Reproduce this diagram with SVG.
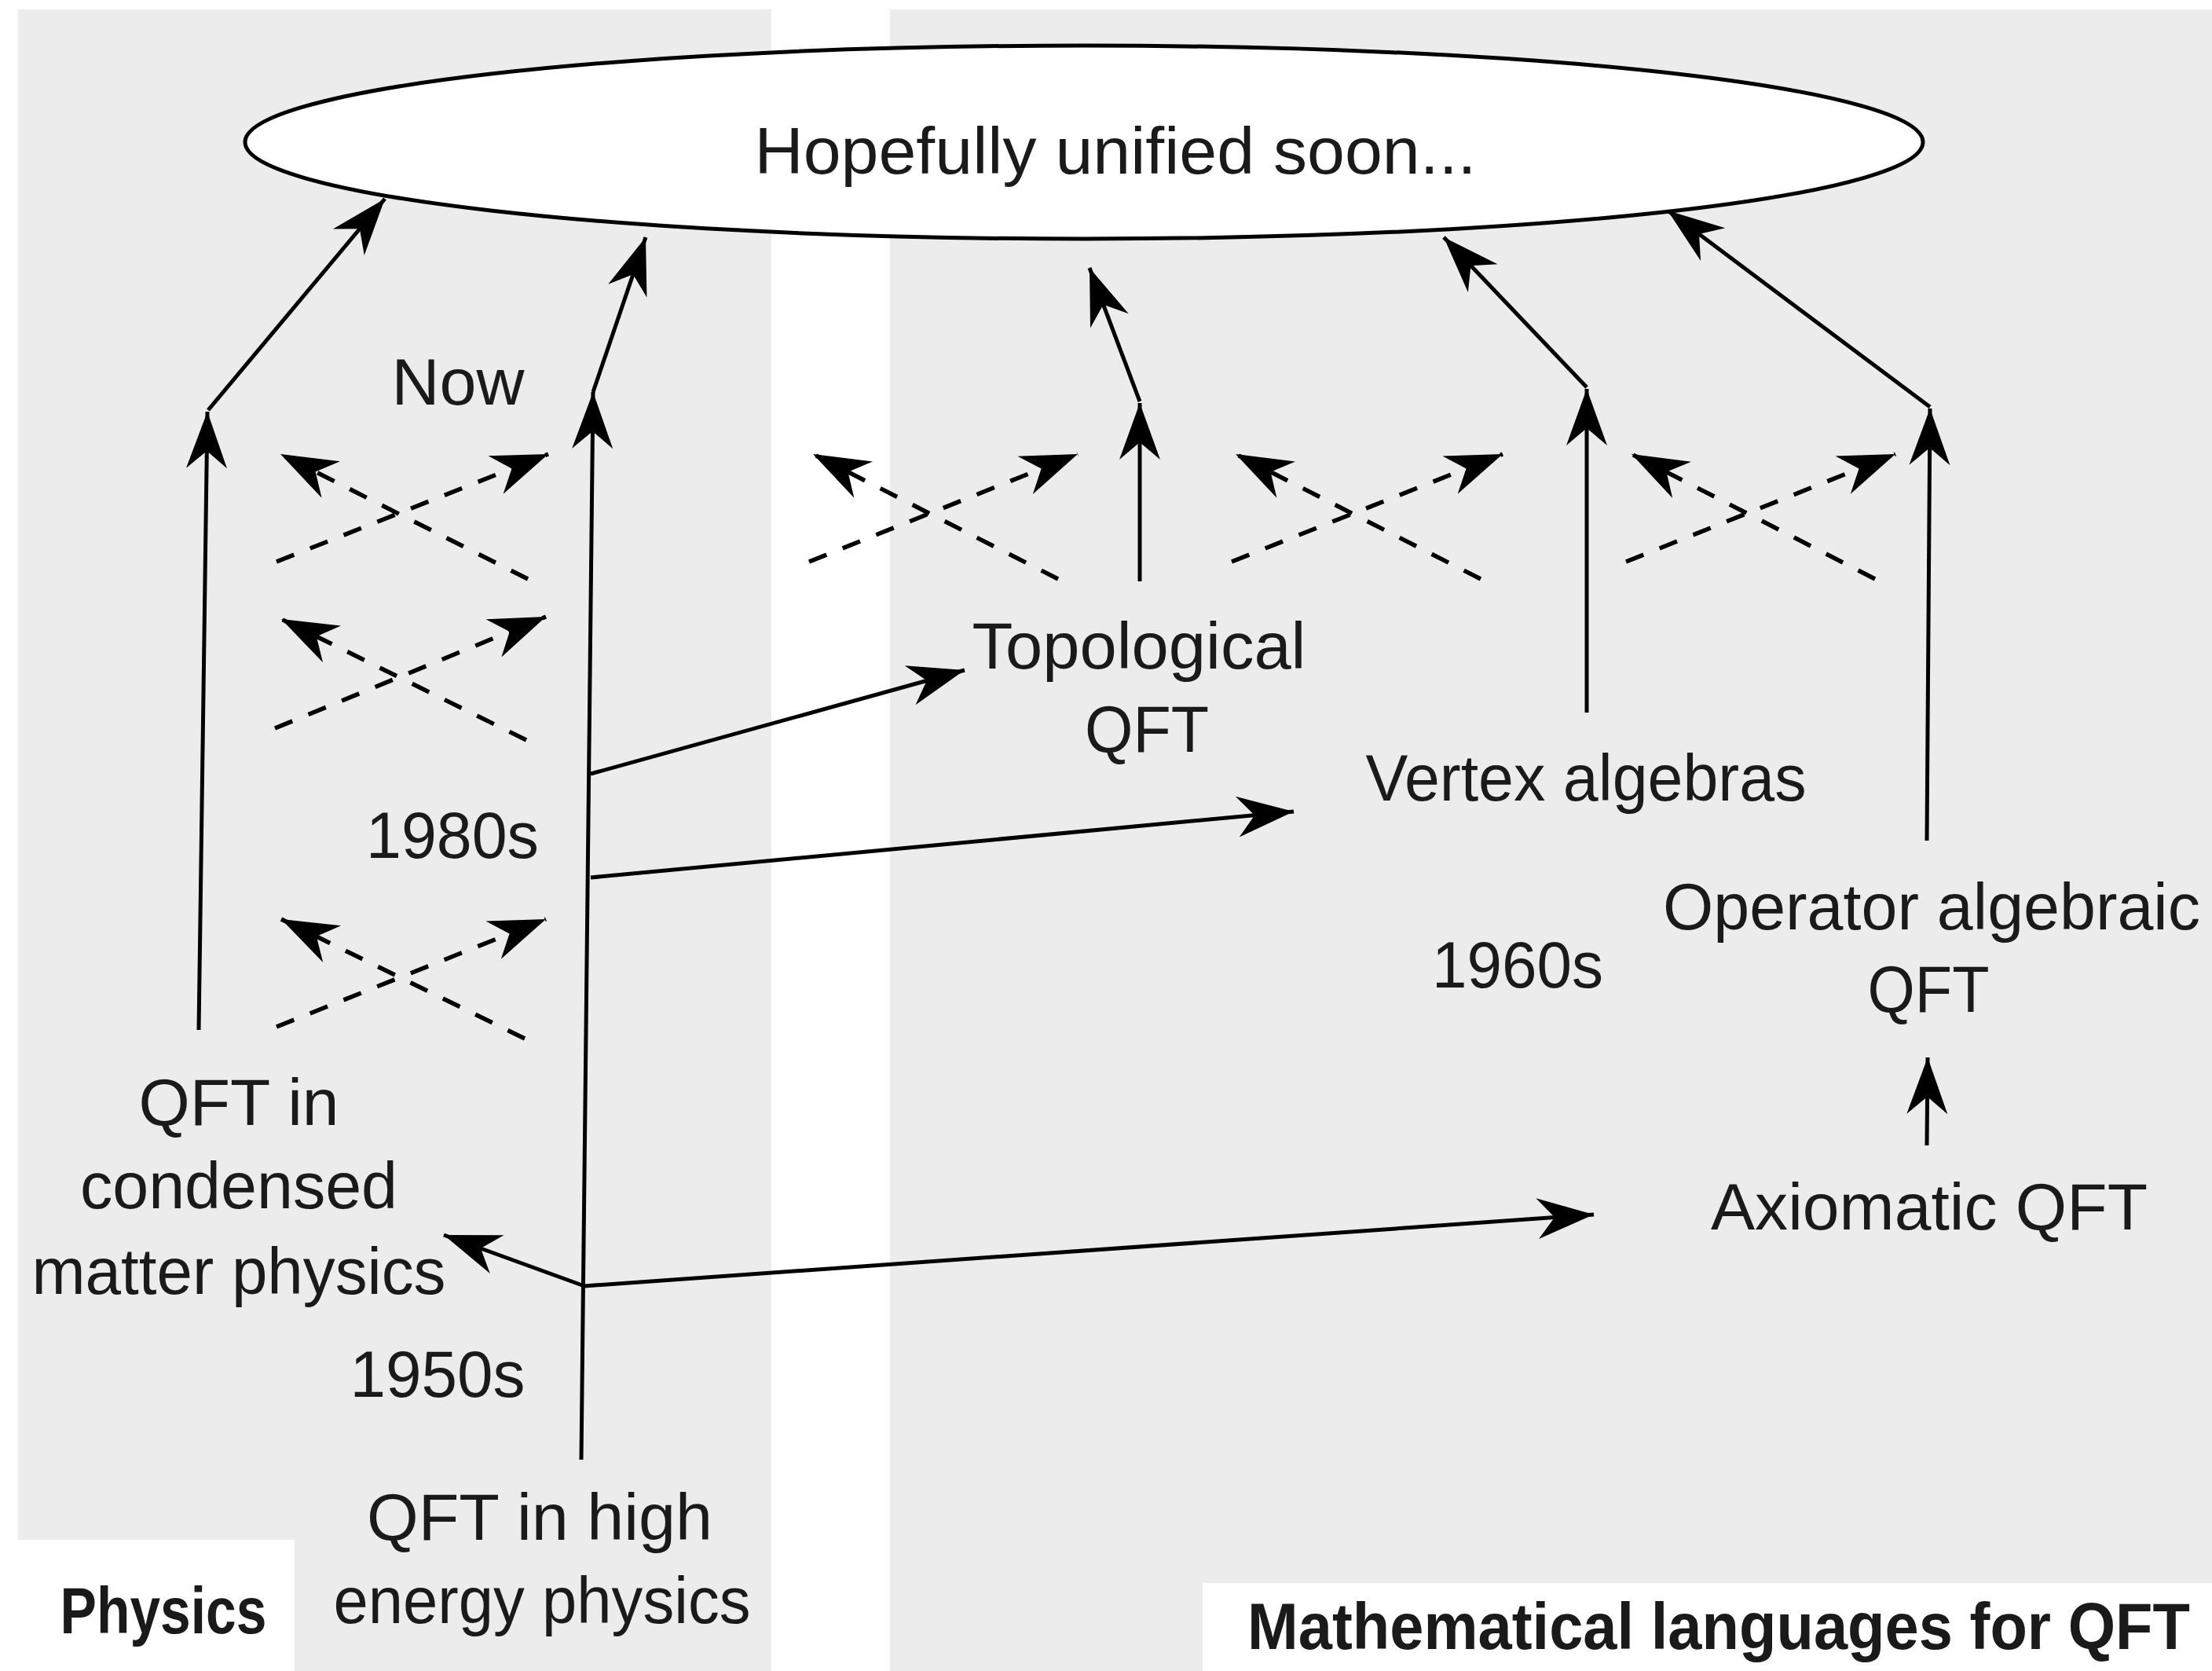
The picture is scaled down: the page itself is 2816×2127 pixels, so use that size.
<svg xmlns="http://www.w3.org/2000/svg" width="2816" height="2127" viewBox="0 0 2816 2127">
<style>
.bg{fill:#ffffff}
.panel{fill:#ececec}
.hole{fill:#ffffff}
.t{font-family:"Liberation Sans",Arial,sans-serif;font-size:83px;fill:#1a1a1a;text-anchor:middle}
.b{font-weight:bold}
.ell{fill:#ffffff;stroke:#000;stroke-width:5}
.c{fill:none;stroke:#000;stroke-width:5;marker-end:url(#ah)}
.d{fill:none;stroke:#000;stroke-width:5.5;stroke-dasharray:24 22;marker-end:url(#ah)}
</style>
<defs>
<marker id="ah" viewBox="-76 -30 80 60" refX="0" refY="0" markerWidth="80" markerHeight="60" markerUnits="userSpaceOnUse" orient="auto">
<path d="M0,0 L-72,-26 L-50,0 L-72,26 Z" fill="#000"/>
</marker>
</defs>
<rect class="bg" x="0" y="0" width="2816" height="2127"/>
<g id="panels">
<rect class="panel" x="23" y="12" width="959" height="2115"/>
<rect class="hole" x="23" y="1960" width="352" height="167"/>
<rect class="panel" x="1133" y="12" width="1683" height="2115"/>
<rect class="hole" x="1531" y="2015" width="1285" height="112"/>
</g>
<g id="connectors">
<line class="c" x1="253" y1="1311" x2="264" y2="524"/>
<line class="c" x1="265" y1="522" x2="490" y2="253"/>
<line class="c" x1="740" y1="1858" x2="755" y2="499"/>
<line class="c" x1="755" y1="499" x2="822" y2="302"/>
<line class="c" x1="1451" y1="740" x2="1451" y2="513"/>
<line class="c" x1="1451" y1="511" x2="1387" y2="341"/>
<line class="c" x1="2020" y1="907" x2="2020" y2="495"/>
<line class="c" x1="2020" y1="493" x2="1838" y2="302"/>
<line class="c" x1="2453" y1="1070" x2="2457" y2="520"/>
<line class="c" x1="2457" y1="518" x2="2123" y2="268"/>
<line class="c" x1="2453" y1="1458" x2="2454" y2="1346"/>
<line class="c" x1="744" y1="1637" x2="565" y2="1572"/>
<line class="c" x1="744" y1="1637" x2="2029" y2="1546"/>
<line class="c" x1="752" y1="985" x2="1228" y2="853"/>
<line class="c" x1="752" y1="1117" x2="1647" y2="1033"/>
<g id="cross1">
<line class="d" x1="352" y1="715" x2="698" y2="578"/>
<line class="d" x1="672" y1="737" x2="357" y2="578"/>
</g>
<g id="cross2">
<line class="d" x1="350" y1="927" x2="695" y2="785"/>
<line class="d" x1="670" y1="942" x2="358" y2="788"/>
</g>
<g id="cross3">
<line class="d" x1="352" y1="1307" x2="695" y2="1170"/>
<line class="d" x1="668" y1="1322" x2="358" y2="1170"/>
</g>
<g id="cross4">
<line class="d" x1="1030" y1="715" x2="1372" y2="578"/>
<line class="d" x1="1347" y1="737" x2="1035" y2="578"/>
</g>
<g id="cross5">
<line class="d" x1="1568" y1="715" x2="1913" y2="578"/>
<line class="d" x1="1885" y1="737" x2="1573" y2="578"/>
</g>
<g id="cross6">
<line class="d" x1="2070" y1="715" x2="2413" y2="578"/>
<line class="d" x1="2387" y1="737" x2="2077" y2="578"/>
</g>
</g>
<g id="unified">
<ellipse class="ell" cx="1380" cy="181" rx="1068" ry="123"/>
<text class="t" x="1420" y="221" font-size="86" textLength="919" lengthAdjust="spacingAndGlyphs">Hopefully unified soon...</text>
</g>
<g id="label-now"><text class="t" x="583" y="515" textLength="169" lengthAdjust="spacingAndGlyphs">Now</text></g>
<g id="label-1980s"><text class="t" x="576" y="1092" textLength="220" lengthAdjust="spacingAndGlyphs">1980s</text></g>
<g id="label-1960s"><text class="t" x="1932" y="1257" textLength="218" lengthAdjust="spacingAndGlyphs">1960s</text></g>
<g id="label-1950s"><text class="t" x="557" y="1778" textLength="223" lengthAdjust="spacingAndGlyphs">1950s</text></g>
<g id="topological">
<text class="t" x="1450" y="851" textLength="425" lengthAdjust="spacingAndGlyphs">Topological</text>
<text class="t" x="1460" y="957" textLength="158" lengthAdjust="spacingAndGlyphs">QFT</text>
</g>
<g id="vertex">
<text class="t" x="2019" y="1019" textLength="561" lengthAdjust="spacingAndGlyphs">Vertex algebras</text>
</g>
<g id="operator">
<text class="t" x="2459" y="1183" textLength="684" lengthAdjust="spacingAndGlyphs">Operator algebraic</text>
<text class="t" x="2455" y="1288" textLength="155" lengthAdjust="spacingAndGlyphs">QFT</text>
</g>
<g id="axiomatic">
<text class="t" x="2456" y="1565" textLength="556" lengthAdjust="spacingAndGlyphs">Axiomatic QFT</text>
</g>
<g id="condensed">
<text class="t" x="304" y="1432" textLength="255" lengthAdjust="spacingAndGlyphs">QFT in</text>
<text class="t" x="304" y="1538" textLength="404" lengthAdjust="spacingAndGlyphs">condensed</text>
<text class="t" x="304" y="1647" textLength="527" lengthAdjust="spacingAndGlyphs">matter physics</text>
</g>
<g id="highenergy">
<text class="t" x="687" y="1960" textLength="440" lengthAdjust="spacingAndGlyphs">QFT in high</text>
<text class="t" x="690" y="2066" textLength="531" lengthAdjust="spacingAndGlyphs">energy physics</text>
</g>
<g id="label-physics"><text class="t b" x="208" y="2079" font-size="84" textLength="263" lengthAdjust="spacingAndGlyphs">Physics</text></g>
<g id="label-math"><text class="t b" x="2188" y="2099" font-size="80" textLength="1200" lengthAdjust="spacingAndGlyphs">Mathematical languages for QFT</text></g>
</svg>
